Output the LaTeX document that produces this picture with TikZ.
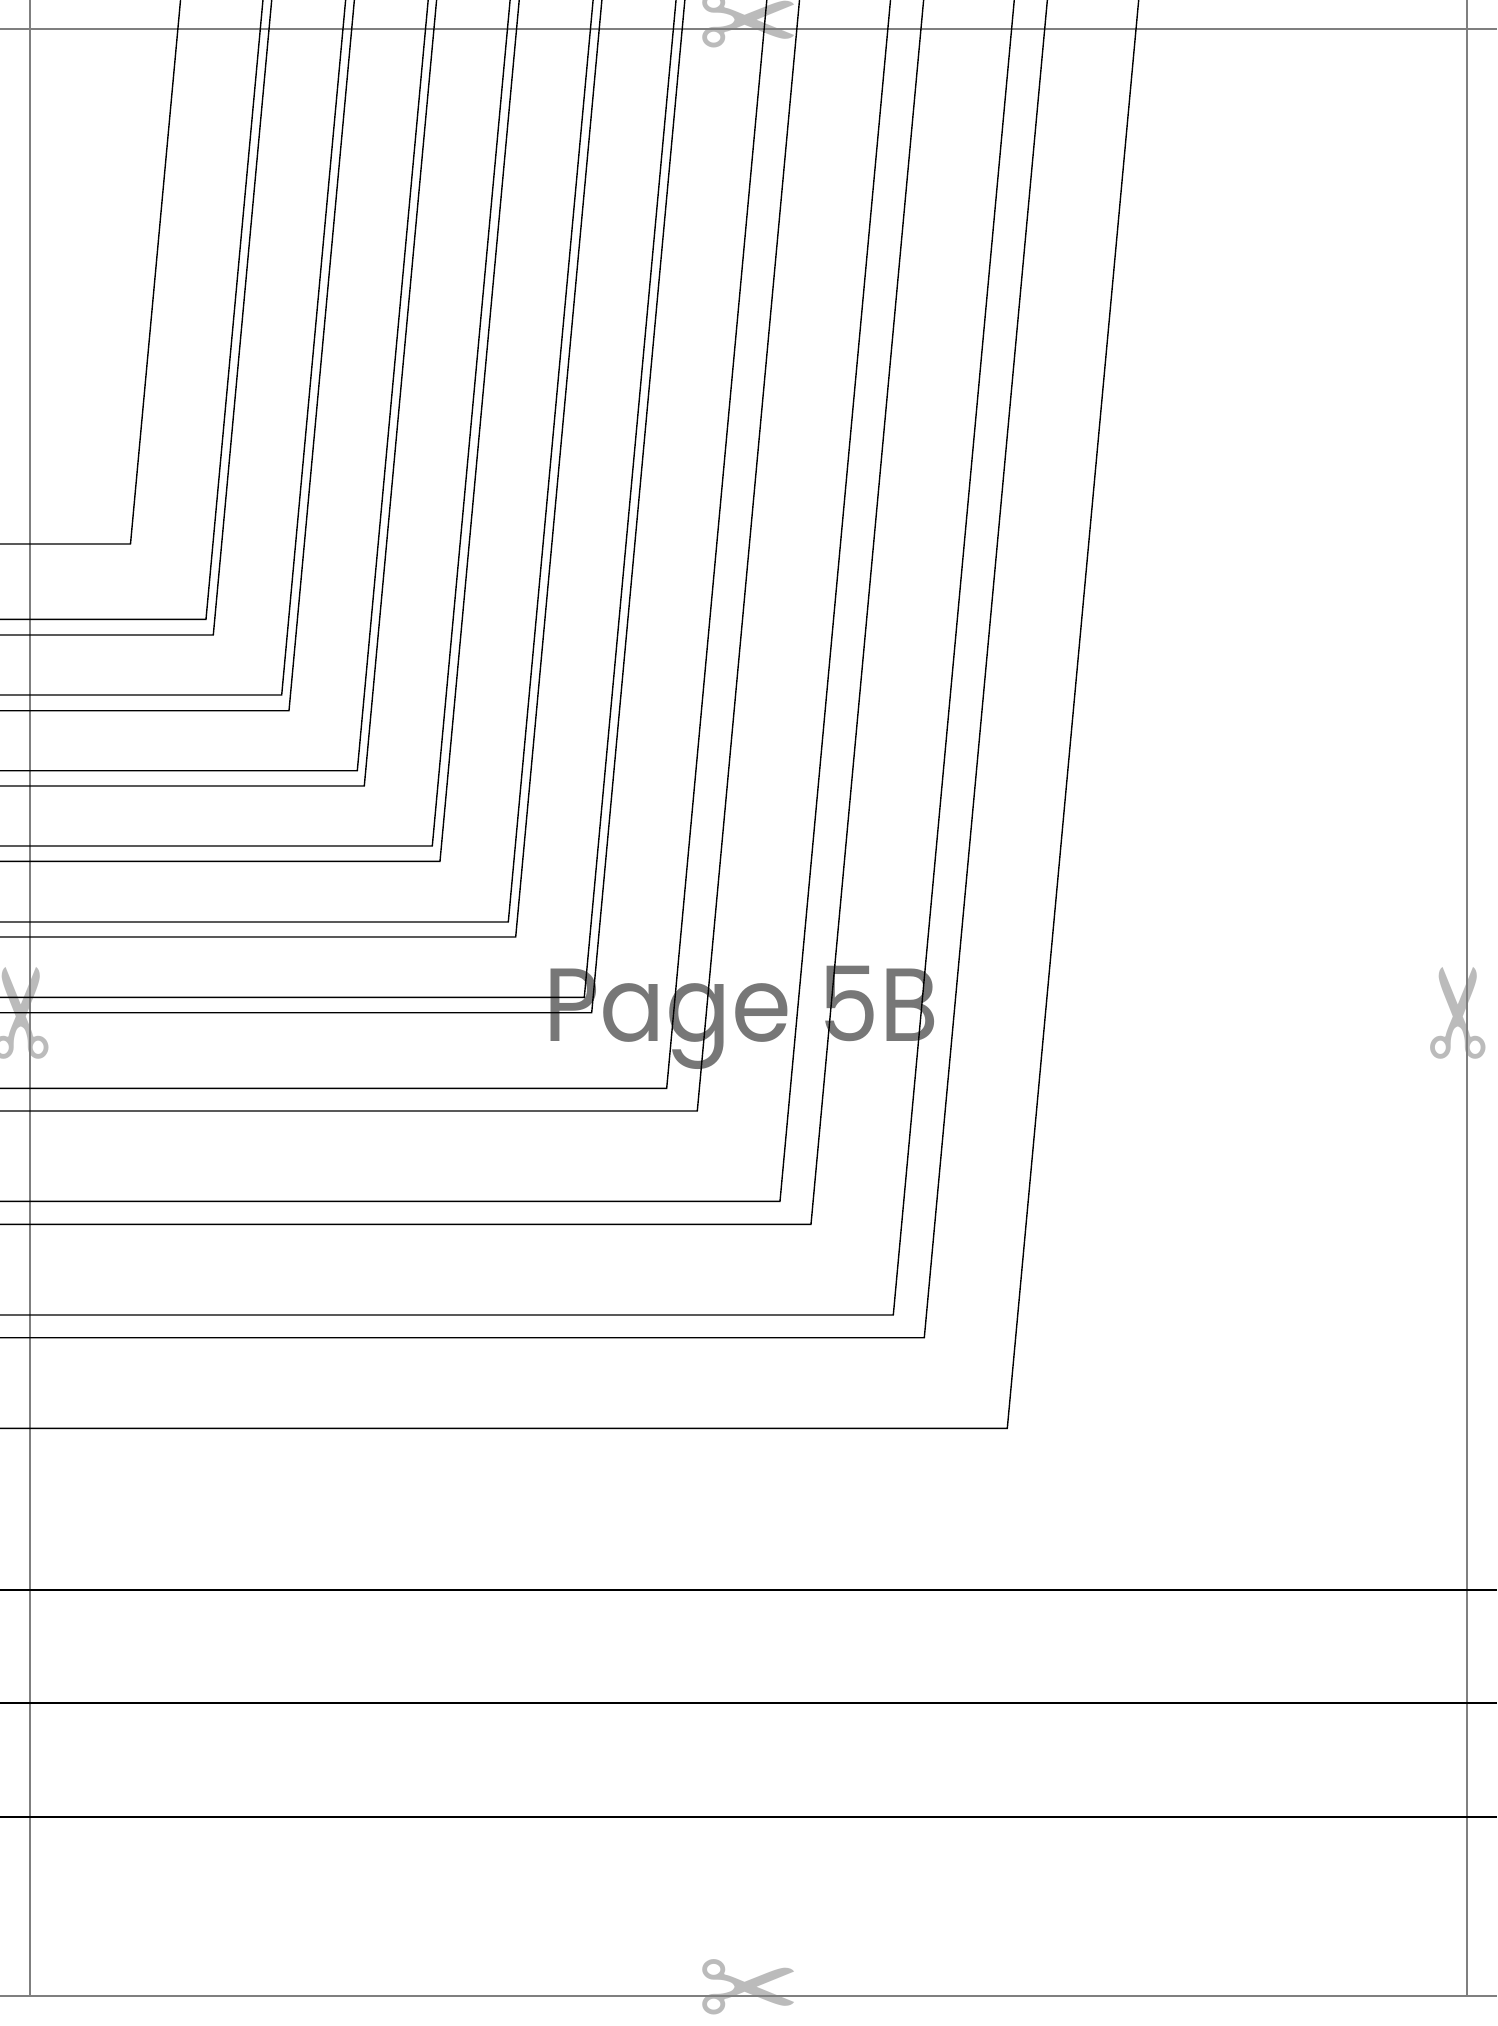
\documentclass[tikz,border=0pt]{standalone}
\usepackage{fontspec}
\newfontfamily\labelfont[FakeStretch=0.94]{Poppins}
\newfontfamily\snipfont{DejaVu Sans}
\usetikzlibrary{positioning}
\definecolor{guidegray}{HTML}{7F7F7F}
\definecolor{snipgray}{HTML}{BBBBBB}
\definecolor{labelgray}{HTML}{777777}

\begin{document}
\begin{tikzpicture}[x=1pt,y=-1pt,
  guide/.style={draw=guidegray,line width=2.2pt},
  fold/.style={draw=black,line width=1.4pt},
  band/.style={draw=black,line width=2.2pt},
  snip/.style={text=snipgray,inner sep=0pt,font=\snipfont\bfseries\fontsize{124}{124}\selectfont},
  pagetag/.style={text=labelgray,inner sep=0pt,anchor=base west,font=\labelfont\fontsize{104}{110}\selectfont}]
  \useasboundingbox (0,0) rectangle (1497,2026);
  \fill[white] (0,0) rectangle (1497,2026);

  \node[snip] (sniptop) at (749,29) {✂};
  \node[snip] (snipbottom) at (749,1996) {✂};
  \node[snip,rotate=90] (snipleft) at (30,1013) {✂};
  \node[snip,rotate=90] (snipright) at (1467,1013) {✂};
  \node[pagetag] (pagename) at (543,1041) {Page 5B};

  \draw[guide] (0,29) -- (1497,29);
  \draw[guide] (0,1996) -- (1497,1996);
  \draw[guide] (30,0) -- (30,1996);
  \draw[guide] (1467,0) -- (1467,1996);

  \foreach \cx/\cy in {130.5/544, 206/619.3, 213.3/635, 281.7/695, 289/710.7,
      357.3/770.7, 364.3/786, 432.3/846, 440/861.3, 508.3/922, 515.7/937,
      584.3/997.3, 591.7/1012.7, 666.7/1088.3, 697.3/1111, 780/1201.3,
      811/1224.3, 893.3/1315, 924.3/1337.7, 1007.3/1428.3}
    \draw[fold] (0,\cy) -- (\cx,\cy) -- ({\cx+0.092*\cy},0);

  \draw[band] (0,1590) -- (1497,1590);
  \draw[band] (0,1703) -- (1497,1703);
  \draw[band,line width=1.6pt] (0,1817) -- (1497,1817);
\end{tikzpicture}
\end{document}
